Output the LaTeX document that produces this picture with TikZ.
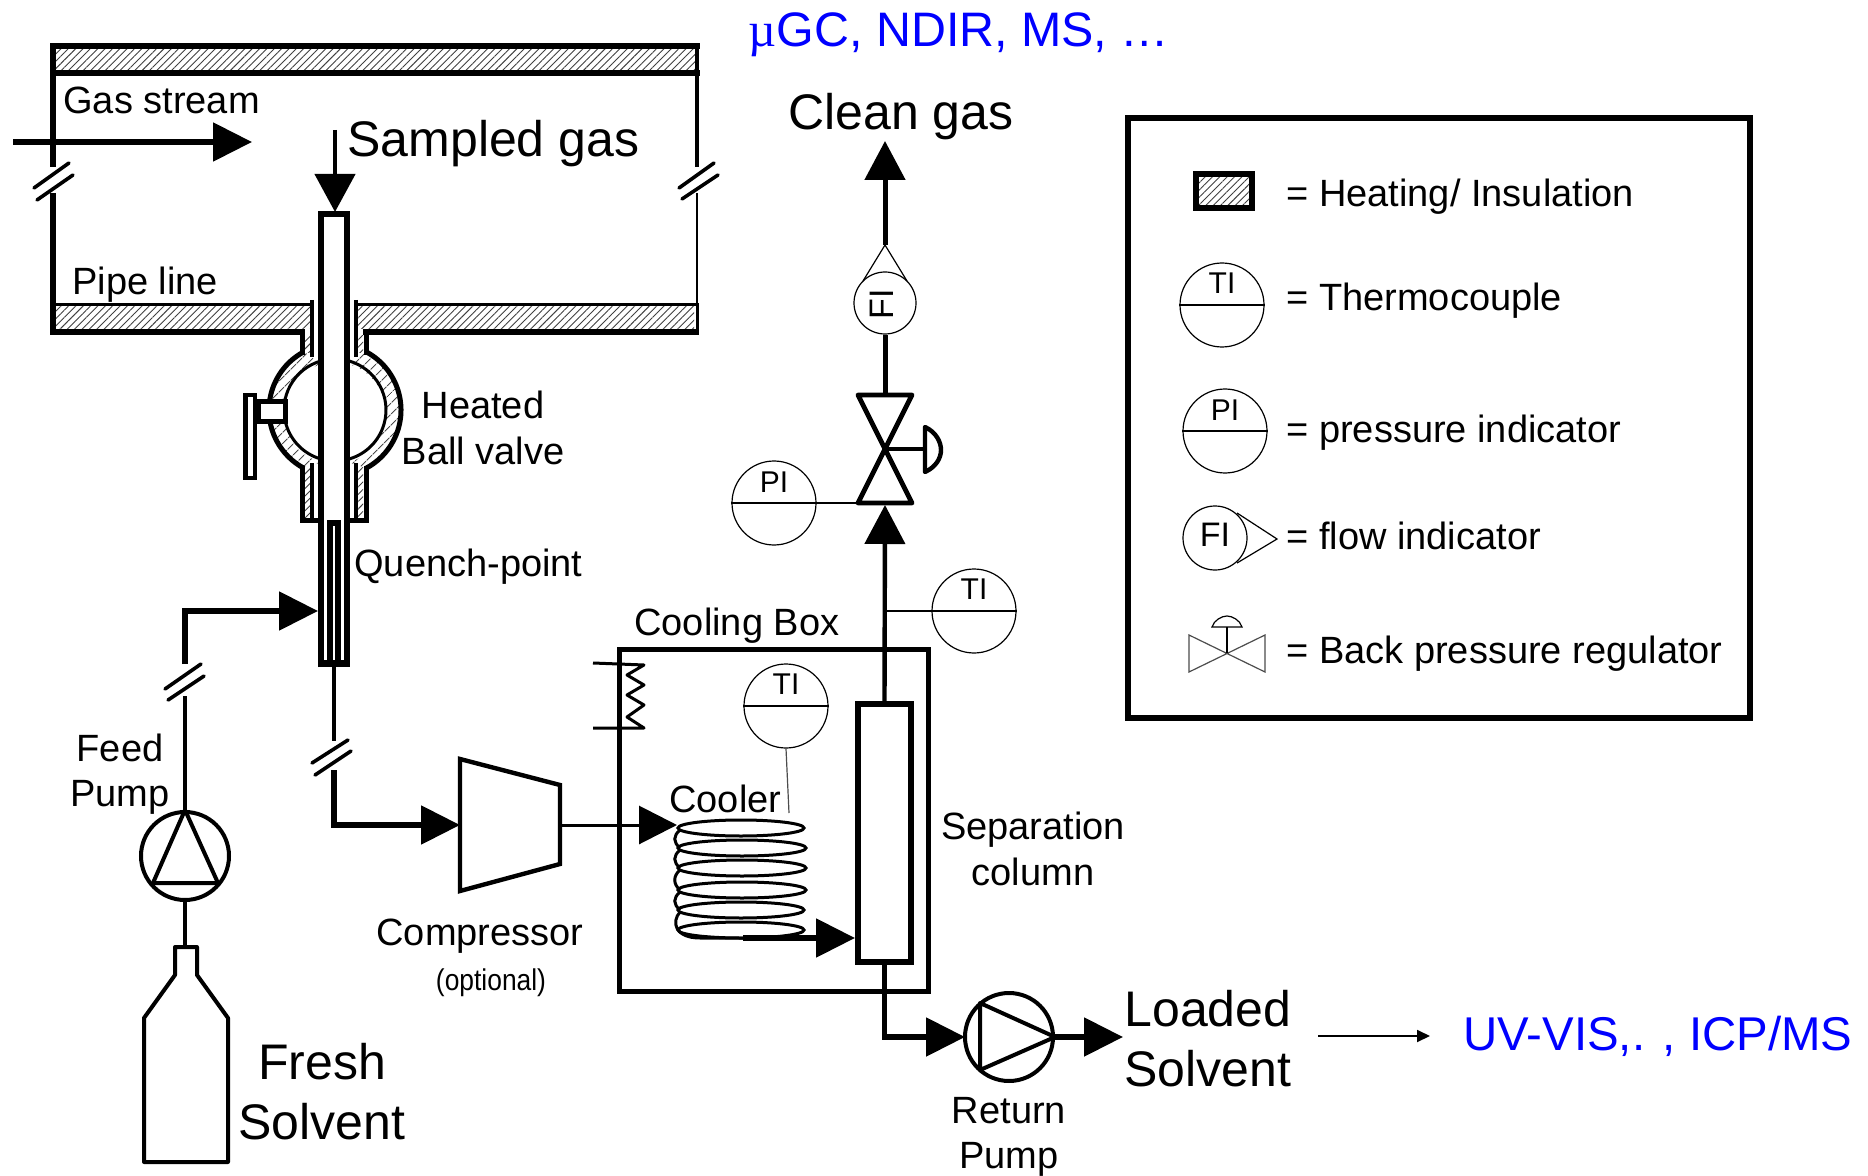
\documentclass[tikz,border=0pt]{standalone}
\usepackage{fontspec}
\setmainfont{Liberation Sans}
\newfontfamily\muserif{Liberation Serif}
\usetikzlibrary{arrows.meta,patterns.meta}
\tikzset{
	lab/.style={inner sep=0pt,font=\fontsize{19}{22.6}\selectfont,align=center},
	biglab/.style={inner sep=0pt,font=\fontsize{25}{30}\selectfont,align=center},
	bluelab/.style={inner sep=0pt,text=blue,font=\fontsize{23.7}{28}\selectfont},
	taglab/.style={inner sep=0pt,font=\fontsize{15}{15}\selectfont},
	flow/.style={line width=2.7pt,-{Triangle[length=19.5pt,width=19pt]}},
	pipe/.style={line width=2.5pt},
	wall/.style={line width=2pt},
	thinline/.style={line width=.6pt},
	brk/.style={line width=1.8pt,line cap=round},
	hatch/.style={pattern={Lines[angle=45,distance=2.6pt,line width=.45pt]},pattern color=black!75},
	ballhatch/.style={pattern={Lines[angle=45,distance=4pt,line width=.5pt]},pattern color=black!70},
	instr/.style={draw,circle,thinline,minimum size=42pt,inner sep=0pt},
	pump/.style={draw,circle,line width=2pt,minimum size=44pt,inner sep=0pt},
}
\begin{document}
\begin{tikzpicture}[x=.5pt,y=.5pt,yscale=-1]
	\useasboundingbox (0,0) rectangle (1868,1176);

	\coordinate (gasin) at (13,142);
	\coordinate (gasend) at (252,142);
	\coordinate (sampletop) at (335,130);
	\coordinate (tubetop) at (335,212);
	\coordinate (quenchout) at (334,667);
	\coordinate (quenchbrk) at (334,741);
	\coordinate (coolstart) at (334,770);
	\coordinate (coolcorner) at (334,825);
	\coordinate (compin) at (460,825);
	\coordinate (compout) at (560,825);
	\coordinate (coilin) at (677,825);
	\coordinate (coilout) at (743,938);
	\coordinate (feedbrk) at (185,696);
	\coordinate (feedup) at (185,664);
	\coordinate (feedcorner) at (185,611);
	\coordinate (feedend) at (318,611);
	\coordinate (bottletop) at (185,947);
	\coordinate (valvetop) at (885,395);
	\coordinate (valvebottom) at (885,505);
	\coordinate (valveleft) at (858,503);
	\coordinate (flowapex) at (885,245);
	\coordinate (cleanend) at (885,141);
	\coordinate (loadedfrom) at (1318,1036);
	\coordinate (loadedto) at (1430,1036);
	\coordinate (solventend) at (1123,1037);
	\coordinate (retcorner) at (884,1037);

	\fill[hatch] (53,49) rectangle (697,70);
	\fill[hatch] (56,307) rectangle (310,329);
	\fill[hatch] (358,307) rectangle (694,329);
	\draw[line width=3pt] (50,46) -- (700,46);
	\draw[line width=3pt] (50,73) -- (700,73);
	\draw[line width=3pt] (53,46) -- (53,167);
	\draw[line width=3pt] (53,193) -- (53,335);
	\draw[wall] (697,46) -- (697,167);
	\draw[line width=1pt] (697,193) -- (697,305);
	\draw[line width=1.5pt] (52,305) -- (312,305);
	\draw[line width=1.5pt] (357,305) -- (699,305);
	\draw[line width=3pt] (50,332) -- (305,332);
	\draw[line width=3pt] (363,332) -- (699,332);
	\draw[line width=1.5pt] (697,305) -- (697,335);
	\draw[brk] (34,188) -- (69,163);
	\draw[brk] (37,200) -- (73,175);
	\draw[brk] (679,188) -- (714,163);
	\draw[brk] (682,199) -- (718,175);

	\draw[flow] (gasin) -- (gasend);
	\draw[line width=2.2pt,-{Triangle[length=19pt,width=20pt]}] (sampletop) -- (tubetop);

	\fill[ballhatch] (335,410) ++(-62:66) arc (-62:62:66) -- ++(-17,-6) arc (74:-74:51) -- cycle;
	\fill[ballhatch] (335,410) ++(242:66) arc (242:118:66) -- ++(17,-6) arc (106:254:51) -- cycle;
	\fill[hatch] (305,336) rectangle (310,353);
	\fill[hatch] (358,336) rectangle (363,353);
	\fill[hatch] (305,467) rectangle (310,517);
	\fill[hatch] (358,467) rectangle (363,517);
	\draw[pipe] (335,410) ++(-62:66) arc (-62:62:66);
	\draw[pipe] (335,410) ++(242:66) arc (242:118:66);
	\draw[line width=1.5pt] (335,410) ++(-74:51) arc (-74:74:51);
	\draw[line width=1.5pt] (335,410) ++(254:51) arc (254:106:51);
	\draw[pipe] (302.5,333) -- (302.5,355);
	\draw[pipe] (366,333) -- (366,355);
	\draw[wall] (312,300) -- (312,357);
	\draw[wall] (356,300) -- (356,357);
	\draw[pipe] (302.5,466) -- (302.5,520) -- (318,520);
	\draw[pipe] (366,466) -- (366,520) -- (350,520);
	\draw[wall] (312,463) -- (312,518);
	\draw[wall] (356,463) -- (356,518);
	\draw[pipe,fill=white] (258,402) rectangle (285,422);
	\draw[line width=2.2pt,fill=white] (245.5,395) rectangle (255,478);

	\draw[line width=3pt] (321,667) -- (321,214) -- (347,214) -- (347,667);
	\fill (327,520) rectangle (341,665);
	\fill (318,660) rectangle (350,667);
	\draw[white,line width=.8pt] (334,526) -- (334,660);
	\draw[line width=2pt] (quenchout) -- (quenchbrk);
	\draw[brk] (312,763) -- (348,740);
	\draw[brk] (315,775) -- (351,751);
	\draw[flow] (coolstart) -- (coolcorner) -- (compin);

	\draw[line width=2pt] (feedbrk) -- (185,812);
	\draw[brk] (165,689) -- (201,664);
	\draw[brk] (168,700) -- (204,676);
	\draw[flow] (feedup) -- (feedcorner) -- (feedend);
	\node[pump] (feedpump) at (185,856) {};
	\draw[line width=2pt,line join=round] (feedpump.north) -- (153,883) -- (218,883) -- cycle;
	\draw[line width=2pt] (feedpump.south) -- (bottletop);
	\draw[line width=2pt,line join=round] (175,975) -- (175,947) -- (197,947) -- (197,975) -- (228,1018) -- (228,1162) -- (144,1162) -- (144,1018) -- cycle;

	\draw[line width=2.2pt] (460,759) -- (560,785) -- (560,864) -- (460,891) -- cycle;
	\draw[line width=1.5pt,-{Triangle[length=19pt,width=19pt]}] (compout) -- (coilin);

	\draw[pipe] (619,649) rectangle (928,991.5);
	\draw[line width=1.5pt,line join=round] (593,663) -- (644,665) -- (627,675) -- (644,685) -- (627,695) -- (644,705) -- (627,717) -- (644,728) -- (593,728);

	\draw[line width=1.5pt] (741,828) ellipse [x radius=63,y radius=8];
	\draw[line width=1.5pt] (742,848) ellipse [x radius=64,y radius=8];
	\draw[line width=1.5pt] (742,868) ellipse [x radius=64,y radius=8];
	\draw[line width=1.5pt] (742,890) ellipse [x radius=64,y radius=8];
	\draw[line width=1.5pt] (741,910) ellipse [x radius=63,y radius=8];
	\draw[line width=1.5pt] (741,930) ellipse [x radius=63,y radius=8];
	\draw[line width=1.5pt] (680,830) .. controls (673,836) and (673,842) .. (680,848);
	\draw[line width=1.5pt] (680,850) .. controls (673,856) and (673,862) .. (680,868);
	\draw[line width=1.5pt] (680,870) .. controls (673,876) and (673,884) .. (680,890);
	\draw[line width=1.5pt] (680,892) .. controls (673,898) and (673,904) .. (680,910);
	\draw[line width=1.5pt] (680,912) .. controls (671,922) and (675,938) .. (700,938) -- (coilout);
	\node[draw,line width=3pt,minimum width=26.5pt,minimum height=129pt,inner sep=0pt] (column) at (884.5,833) {};
	\draw[flow] (coilout) -- (column.west |- coilout);

	\node[instr] (ticool) at (786,706) {};
	\draw[thinline] (ticool.west) -- (ticool.east);
	\node[taglab] (ticooltag) at (786,684) {TI};
	\draw[thinline,black!70] (ticool.south) -- (789,813);

	\draw[line width=2.2pt,-{Triangle[length=19.5pt,width=20pt]}] (column.north) -- (valvebottom);
	\draw[line width=2.4pt,line join=round] (858,395) -- (912,395) -- (858,503) -- (912,503) -- cycle;
	\draw[line width=2.4pt] (885,449) -- (927,449);
	\draw[line width=2.2pt,line join=round] (925,427) .. controls (936,432) and (941,442) .. (941,450) .. controls (941,458) and (936,467) .. (925,472) -- cycle;

	\node[instr] (pivalve) at (774,503) {};
	\draw[thinline] (pivalve.west) -- (valveleft);
	\node[taglab] (pivalvetag) at (774,482) {PI};

	\node[instr] (tiup) at (974,611) {};
	\draw[thinline] (885,611) -- (tiup.east);
	\node[taglab] (tiuptag) at (974,589) {TI};

	\node[draw,circle,thinline,minimum size=31pt,inner sep=0pt] (fiup) at (885,303) {};
	\draw[thinline] (863,281) -- (flowapex) -- (907,281);
	\node[inner sep=0pt,font=\fontsize{17}{17}\selectfont,rotate=90] (fiuptag) at (882,304) {FI};
	\draw[pipe] (valvetop) -- (fiup.south);
	\draw[line width=2.5pt,-{Triangle[length=19.5pt,width=20pt]}] (flowapex) -- (cleanend);

	\draw[flow] (column.south) -- (column.south |- retcorner) -- (retcorner -| 965,0);
	\node[pump] (returnpump) at (1009,1037) {};
	\draw[line width=2pt,line join=round] (980,1003) -- (returnpump.east) -- (980,1070) -- cycle;
	\draw[flow] (returnpump.east) -- (solventend);
	\draw[line width=.9pt,-{Triangle[length=6.5pt,width=6pt]}] (loadedfrom) -- (loadedto);

	\draw[line width=3pt] (1128,118) rectangle (1750,718);
	\draw[line width=3pt,hatch] (1195.5,174) rectangle (1251.5,208);
	\node[instr] (tileg) at (1222,305) {};
	\draw[thinline] (tileg.west) -- (tileg.east);
	\node[taglab] (titag) at (1222,283) {TI};
	\node[instr] (pileg) at (1225,431) {};
	\draw[thinline] (pileg.west) -- (pileg.east);
	\node[taglab] (pitag) at (1225,410) {PI};
	\node[draw,circle,thinline,minimum size=32pt,inner sep=0pt] (fileg) at (1215,538) {};
	\draw[thinline] (1237,513) -- (1277,539) -- (1237,563);
	\node[inner sep=0pt,font=\fontsize{17}{17}\selectfont] (fitag) at (1215,535) {FI};
	\draw[thinline,black!70] (1189,635) -- (1265,672) -- (1265,635) -- (1189,672) -- cycle;
	\draw[thinline] (1227,653) -- (1227,627);
	\draw[thinline] (1212,627) .. controls (1214,620) and (1222,616) .. (1227,616) .. controls (1232,616) and (1240,620) .. (1242,627) -- cycle;

	\node[lab,anchor=west] (gasstream) at (63,100) {Gas stream};
	\node[biglab,anchor=west] (sampled) at (347,144) {Sampled gas};
	\node[biglab] (clean) at (901,117) {Clean gas};
	\node[lab,anchor=west] (pipeline) at (72,285) {Pipe line};
	\node[lab] (ballvalve) at (483,428) {Heated\\Ball valve};
	\node[lab,anchor=west] (quench) at (354,567) {Quench-point};
	\node[lab,anchor=west] (coolingbox) at (634,626) {Cooling Box};
	\node[lab,anchor=west] (cooler) at (669,799) {Cooler};
	\node[lab] (feedlabel) at (120,774) {Feed\\Pump};
	\node[lab] (compressor) at (480,936) {Compressor};
	\node[inner sep=0pt,font=\fontsize{15}{15}\selectfont,xscale=.88] (optional) at (491,983) {(optional)};
	\node[biglab] (fresh) at (322,1092) {Fresh\\Solvent};
	\node[lab] (separation) at (1033,849) {Separation\\column};
	\node[lab] (returnlabel) at (1009,1137) {Return\\Pump};
	\node[biglab,anchor=west,align=left] (loaded) at (1124,1039) {Loaded\\Solvent};
	\node[bluelab,font=\fontsize{24.2}{28}\selectfont] (topblue) at (959,35) {{\muserif µ}GC, NDIR, MS, …};
	\node[bluelab,anchor=west] (sideblue) at (1463,1036) {UV-VIS,. , ICP/MS};

	\node[lab,anchor=west] (legheat) at (1286,197) {= Heating/ Insulation};
	\node[lab,anchor=west] (legthermo) at (1286,301) {= Thermocouple};
	\node[lab,anchor=west] (legpressure) at (1286,433) {= pressure indicator};
	\node[lab,anchor=west] (legflow) at (1286,536) {= flow indicator};
	\node[lab,anchor=west] (legback) at (1286,654) {= Back pressure regulator};
\end{tikzpicture}
\end{document}
